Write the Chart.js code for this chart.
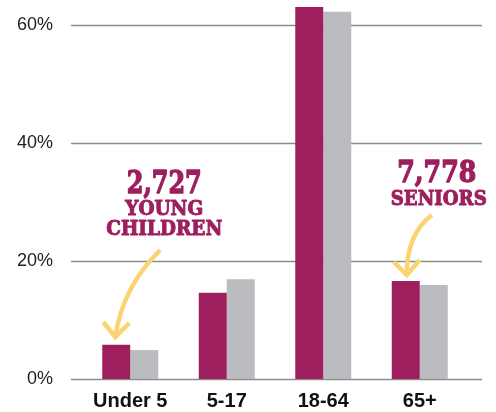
<!DOCTYPE html>
<html>
<head>
<meta charset="utf-8">
<script src="https://cdn.jsdelivr.net/npm/chart.js@4"></script>
<style>
  html, body { margin: 0; padding: 0; background: #fff; }
  #wrap { width: 496px; height: 412px; }
</style>
</head>
<body>
<div id="wrap"><canvas id="myChart"></canvas></div>
<script>
const labels = ['Under 5', '5-17', '18-64', '65+']
const localShare = [5.8, 14.6, 63.0, 16.6]
const compareShare = [4.9, 16.9, 62.2, 15.9]
const yTicks = [0, 20, 40, 60]

const noteNumbers = ['2,727', '7,778']
const noteWords = [['YOUNG', 'CHILDREN'], ['SENIORS']]

const magenta = '#9e1f5e'
const grey = '#bbbcc0'
const yellow = '#f9d470'

// horizontal rules that run a bit past the plot on both sides
const gridLines = {
  id: 'gridLines',
  beforeDatasetsDraw(chart) {
    const { ctx, chartArea, scales } = chart
    ctx.save()
    ctx.strokeStyle = '#8c8c8c'
    ctx.lineWidth = 1.5
    yTicks.forEach(v => {
      const py = Math.round(scales.y.getPixelForValue(v)) + 0.5
      ctx.beginPath()
      ctx.moveTo(chartArea.left - 11, py)
      ctx.lineTo(chartArea.right + 14, py)
      ctx.stroke()
    })
    ctx.restore()
  }
}

// slab-ish bold text squeezed to the width seen in the original
function drawSlab(ctx, text, cx, baseline, size, width) {
  ctx.save()
  ctx.font = 'bold ' + size + 'px "DejaVu Serif"'
  const w = ctx.measureText(text).width
  ctx.translate(cx, baseline)
  ctx.scale(width / w, 1)
  ctx.textAlign = 'center'
  ctx.textBaseline = 'alphabetic'
  ctx.strokeStyle = ctx.fillStyle
  ctx.lineWidth = size > 25 ? 1.4 : 1
  ctx.lineJoin = 'round'
  ctx.fillText(text, 0, 0)
  ctx.strokeText(text, 0, 0)
  ctx.restore()
}

const callouts = {
  id: 'callouts',
  afterDatasetsDraw(chart) {
    const { ctx, scales } = chart
    const P = (cat, dx, v) => [scales.x.getPixelForValue(cat) + dx, scales.y.getPixelForValue(v)]

    ctx.save()
    ctx.fillStyle = magenta
    let p = P(0, 34, 31.5)
    drawSlab(ctx, noteNumbers[0], p[0], p[1], 31, 75)
    p = P(0, 34, 27.77)
    drawSlab(ctx, noteWords[0][0], p[0], p[1], 20, 78)
    p = P(0, 34, 24.38)
    drawSlab(ctx, noteWords[0][1], p[0], p[1], 20, 116)
    p = P(3, 17, 33.36)
    drawSlab(ctx, noteNumbers[1], p[0], p[1], 30, 79)
    p = P(3, 19, 29.46)
    drawSlab(ctx, noteWords[1][0], p[0], p[1], 20, 96)

    ctx.strokeStyle = yellow
    ctx.lineWidth = 4.5
    ctx.lineCap = 'butt'
    ctx.lineJoin = 'miter'
    const arrows = [
      { cat: 0, s: [30, 21.84], c: [-7.5, 15.66], t: [-15, 7.11], a: [-27, 9.65], b: [-1, 9.48] },
      { cat: 3, s: [12, 27.77], c: [-13.5, 24.38], t: [-13, 17.61], a: [-26, 19.81], b: [0, 20.15] }
    ]
    arrows.forEach(ar => {
      const s = P(ar.cat, ar.s[0], ar.s[1])
      const c = P(ar.cat, ar.c[0], ar.c[1])
      const t = P(ar.cat, ar.t[0], ar.t[1])
      const a = P(ar.cat, ar.a[0], ar.a[1])
      const b = P(ar.cat, ar.b[0], ar.b[1])
      ctx.beginPath()
      ctx.moveTo(s[0], s[1])
      ctx.quadraticCurveTo(c[0], c[1], t[0], t[1])
      ctx.stroke()
      ctx.beginPath()
      ctx.moveTo(a[0], a[1])
      ctx.lineTo(t[0], t[1])
      ctx.lineTo(b[0], b[1])
      ctx.stroke()
    })
    ctx.restore()
  }
}

const data = {
  labels: labels,
  datasets: [
    { label: 'Local', data: localShare, backgroundColor: magenta, borderWidth: 0 },
    { label: 'Comparison', data: compareShare, backgroundColor: grey, borderWidth: 0 }
  ]
}

const config = {
  type: 'bar',
  data: data,
  options: {
    responsive: true,
    maintainAspectRatio: false,
    animation: false,
    layout: { padding: { top: 1, right: 28, left: 0, bottom: 0 } },
    datasets: { bar: { categoryPercentage: 0.58, barPercentage: 1, clip: false } },
    plugins: { legend: { display: false }, tooltip: { enabled: false } },
    scales: {
      x: {
        grid: { display: false, drawTicks: false },
        border: { display: false },
        ticks: {
          color: '#111',
          padding: 10,
          font: { family: '"Liberation Sans", Arial, sans-serif', size: 20, weight: 'bold' }
        },
        afterFit: s => { s.height = 33 }
      },
      y: {
        min: 0,
        max: 64,
        grid: { display: false, drawTicks: false },
        border: { display: false },
        afterBuildTicks: s => { s.ticks = yTicks.map(v => ({ value: v })) },
        ticks: {
          color: '#222',
          padding: 29,
          font: { family: '"Liberation Sans", Arial, sans-serif', size: 18 },
          callback: v => v + '%'
        },
        afterFit: s => { s.width = 82; s.paddingTop = 0; s.paddingBottom = 0 }
      }
    }
  },
  plugins: [gridLines, callouts]
}

const myChart = new Chart(document.getElementById('myChart'), config)
</script>
</body>
</html>
